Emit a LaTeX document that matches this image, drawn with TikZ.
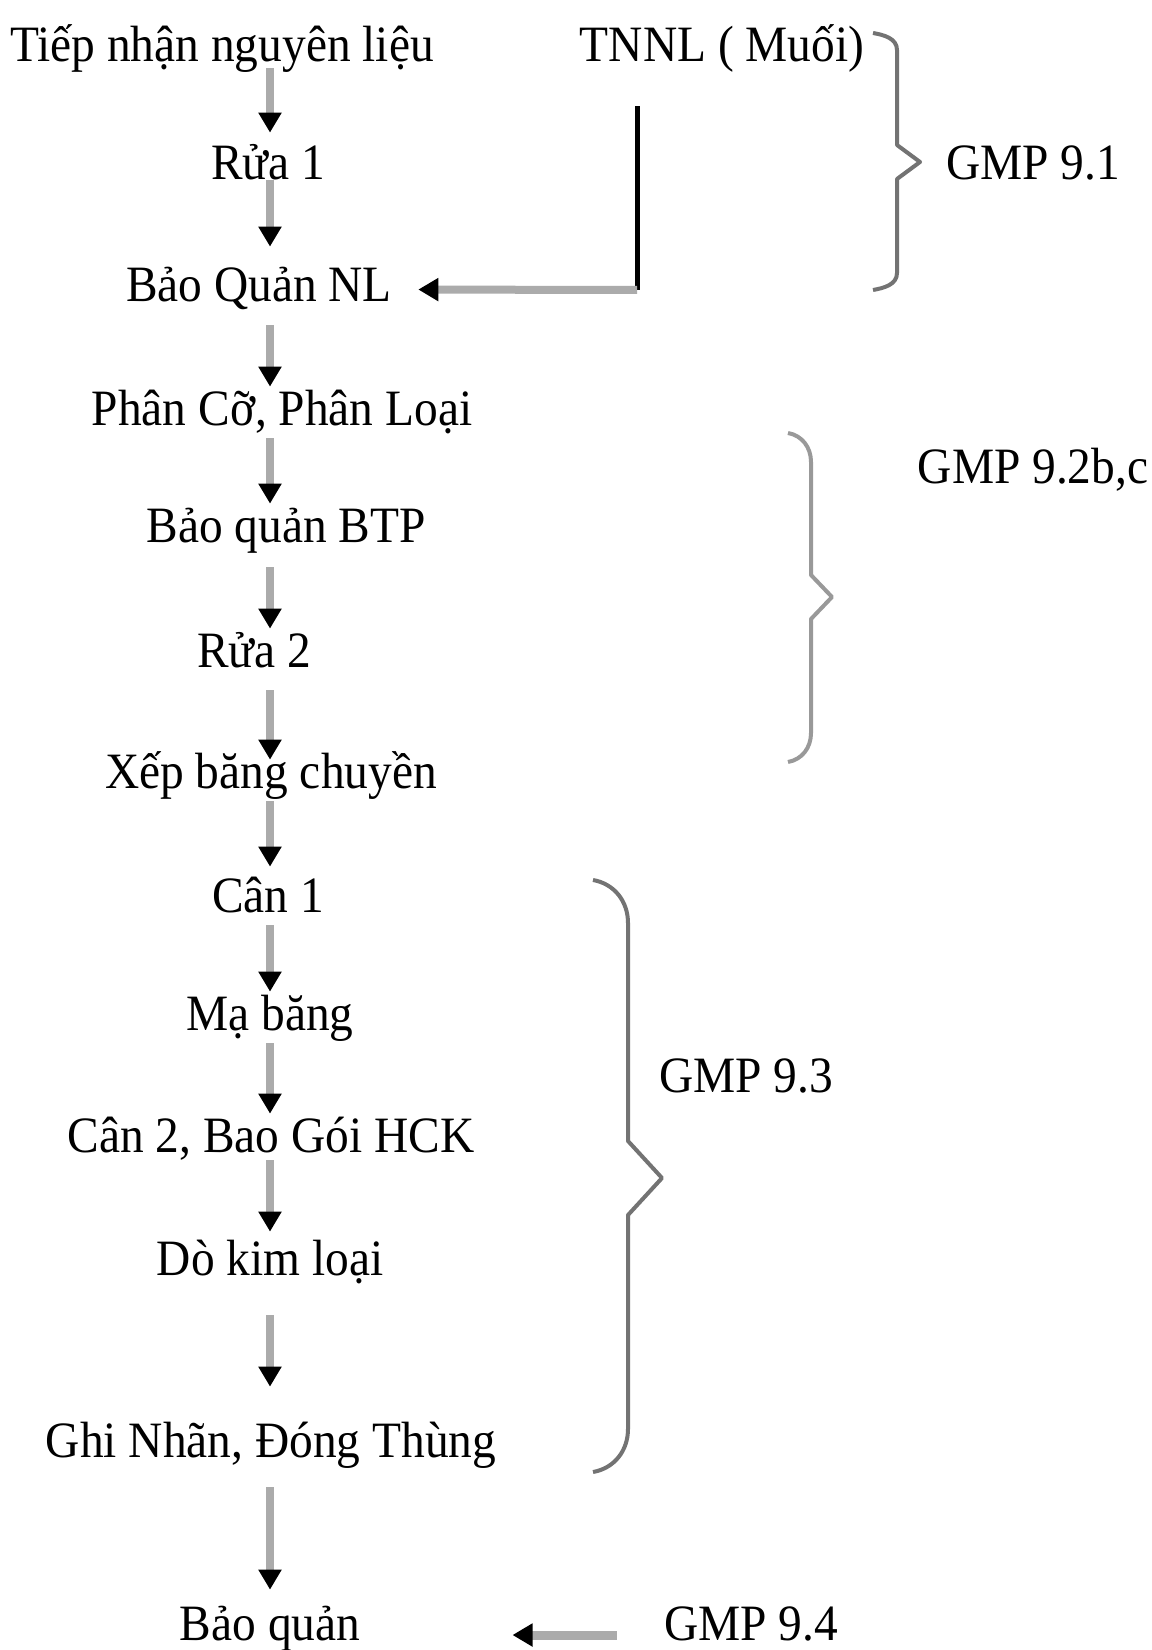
\documentclass[tikz,border=0pt]{standalone}
\usepackage{fontspec}
\setmainfont{Liberation Serif}[FakeStretch=0.93]
\usetikzlibrary{arrows.meta}

\tikzset{
	stage/.style={font=\fontsize{29}{32}\selectfont, inner sep=0pt, text height=0.76cm, text depth=0.26cm, anchor=base},
	flow/.style={line width=0.16cm, black!33, -{Triangle[width=0.44cm,length=0.4cm,color=black]}},
	feed/.style={line width=0.1cm, black},
	gmpbrace/.style={line width=0.08cm, black!55, line join=round}
}

\begin{document}
\begin{tikzpicture}
			\useasboundingbox (0,0) rectangle (23.04,-33);
			\coordinate (spine) at (5.4, 0);
			\coordinate (drop) at (12.74, -5.8);
			
			\node[stage] (tiep) at (4.44, -1.24) {Tiếp nhận nguyên liệu};
			\node[stage] (tnnl) at (14.44, -1.24) {TNNL ( Muối)};
			\node[stage] (rua1) at (5.36, -3.60) {Rửa 1};
			\node[stage] (bqnl) at (5.18, -6.04) {Bảo Quản NL};
			\node[stage] (phanco) at (5.64, -8.50) {Phân Cỡ, Phân Loại};
			\node[stage] (btp) at (5.72, -10.84) {Bảo quản BTP};
			\node[stage] (rua2) at (5.08, -13.34) {Rửa 2};
			\node[stage] (xep) at (5.42, -15.76) {Xếp băng chuyền};
			\node[stage] (can1) at (5.36, -18.24) {Cân 1};
			\node[stage] (maba) at (5.40, -20.60) {Mạ băng};
			\node[stage] (can2) at (5.42, -23.04) {Cân 2, Bao Gói HCK};
			\node[stage] (dokl) at (5.40, -25.50) {Dò kim loại};
			\node[stage] (ghinhan) at (5.42, -29.14) {Ghi Nhãn, Đóng Thùng};
			\node[stage] (bq) at (5.40, -32.80) {Bảo quản};
			
			\node[stage] (gmpa) at (20.66, -3.60) {GMP 9.1};
			\node[stage] (gmpb) at (20.66, -9.66) {GMP 9.2b,c};
			\node[stage] (gmpc) at (14.92, -21.84) {GMP 9.3};
			\node[stage] (gmpd) at (15.02, -32.80) {GMP 9.4};
			
			\draw[flow, shorten <=-0.14cm, shorten >=0.18cm] (tiep.south -| spine) -- (rua1.north -| spine);
			\draw[flow, shorten <=-0.26cm, shorten >=0.34cm] (rua1.south -| spine) -- (bqnl.north -| spine);
			\draw[flow, shorten <=0.2cm] (bqnl.south -| spine) -- (phanco.north -| spine);
			\draw[flow] (phanco.south -| spine) -- (btp.north -| spine);
			\draw[flow, shorten <=0.24cm] (btp.south -| spine) -- (rua2.north -| spine);
			\draw[flow, shorten <=0.2cm, shorten >=-0.2cm] (rua2.south -| spine) -- (xep.north -| spine);
			\draw[flow, shorten >=0.14cm] (xep.south -| spine) -- (can1.north -| spine);
			\draw[flow] (can1.south -| spine) -- (maba.north -| spine);
			\draw[flow] (maba.south -| spine) -- (can2.north -| spine);
			\draw[flow, shorten <=-0.1cm, shorten >=0.1cm] (can2.south -| spine) -- (dokl.north -| spine);
			\draw[flow, shorten <=0.54cm, shorten >=0.64cm] (dokl.south -| spine) -- (ghinhan.north -| spine);
			\draw[flow, shorten <=0.34cm, shorten >=0.24cm] (ghinhan.south -| spine) -- (bq.north -| spine);
			
			\draw[feed, shorten <=0.62cm] (tnnl.south -| drop) -- (drop);
			\draw[flow, shorten >=0.52cm] (drop) -- (bqnl.east);
			\draw[flow, line width=0.18cm, shorten <=0.94cm, shorten >=3.04cm] ([yshift=-0.15cm]gmpd.west) -- ([yshift=-0.15cm]bq.east);
			
			% braces
			\draw[gmpbrace] (17.46,-0.66) to[out=-10,in=90] (17.94,-1.00) -- (17.94,-2.90) -- (18.40,-3.24) -- (17.94,-3.58) -- (17.94,-5.46) to[out=-90,in=10] (17.46,-5.80);
			\draw[gmpbrace, black!40] (15.76,-8.66) to[out=-10,in=90] (16.22,-9.24) -- (16.22,-11.50) -- (16.64,-11.94) -- (16.22,-12.38) -- (16.22,-14.66) to[out=-90,in=10] (15.76,-15.24);
			\draw[gmpbrace] (11.86,-17.60) to[out=-10,in=90] (12.56,-18.46) -- (12.56,-22.82) -- (13.24,-23.56) -- (12.56,-24.30) -- (12.56,-28.58) to[out=-90,in=10] (11.86,-29.44);
\end{tikzpicture}
\end{document}
